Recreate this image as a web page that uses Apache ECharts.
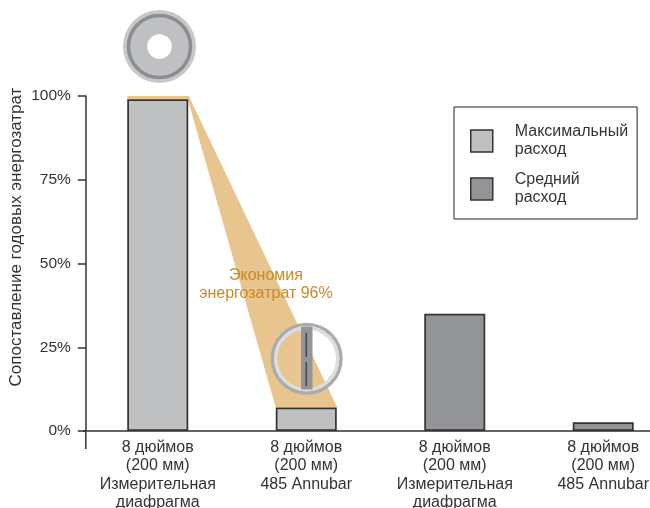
<!DOCTYPE html>
<html><head><meta charset="utf-8">
<style>html,body{margin:0;padding:0;background:#fff}#c{width:650px;height:508px}</style>
<script src="https://cdn.jsdelivr.net/npm/echarts@6/dist/echarts.min.js"></script>
</head><body><div id="c"></div>
<script>
const categories = ["8 дюймов\n(200 мм)\nИзмерительная\nдиафрагма","8 дюймов\n(200 мм)\n485 Annubar","8 дюймов\n(200 мм)\nИзмерительная\nдиафрагма","8 дюймов\n(200 мм)\n485 Annubar"];
const maxFlow = [99, 7, null, null];
const avgFlow = [null, null, 35, 2.6];
const savingsBand = [[0, 100, 99, 1, 7]];
const yTicks = [0, 25, 50, 75, 100];
const yTitle = 'Сопоставление годовых энергозатрат';
const ink = '#333';
const font = '"Liberation Sans", Arial, sans-serif';
const chart = echarts.init(document.getElementById('c'), null, {renderer:'canvas'});
const graphicEls = [
  {type:'line', shape:{x1:85.8,y1:431,x2:85.8,y2:449}, style:{stroke:ink,lineWidth:1.5}, z:5},
  {type:'text', x:16.5, y:237, rotation:Math.PI/2, style:{text:yTitle, fill:ink, font:'17px '+font, align:'center', verticalAlign:'middle'}, z:9},
  {type:'circle', shape:{cx:159.5,cy:46.5,r:36.5}, style:{fill:'#c6c7c9'}, z:10},
  {type:'circle', shape:{cx:159.5,cy:46.5,r:31}, style:{fill:'#bfc0c2',stroke:'#8c8d90',lineWidth:3.5}, z:11},
  {type:'circle', shape:{cx:159.5,cy:46.5,r:12.3}, style:{fill:'#fff'}, z:12},
  {type:'circle', shape:{cx:306.7,cy:358.7,r:34.3}, style:{fill:null,stroke:'#a9abae',lineWidth:3.4}, z:10},
  {type:'circle', shape:{cx:306.7,cy:358.7,r:31}, style:{fill:null,stroke:'#dcddde',lineWidth:3.4}, z:10},
  {type:'rect', shape:{x:301,y:326.5,width:11.5,height:63}, style:{fill:'#939598'}, z:11},
  {type:'line', shape:{x1:306.2,y1:333,x2:306.2,y2:357}, style:{stroke:'#222',lineWidth:1}, z:12},
  {type:'line', shape:{x1:306.2,y1:362,x2:306.2,y2:386}, style:{stroke:'#222',lineWidth:1}, z:12},
  {type:'text', x:266, y:284.5, style:{text:'Экономия\nэнергозатрат 96%', fill:'#c98a1f', font:'16px '+font, lineHeight:18.5, align:'center', verticalAlign:'middle'}, z:9}
];
chart.setOption({
  animation:false,
  backgroundColor:'#fff',
  textStyle:{fontFamily:font},
  grid:{left:83.5, top:96, width:594, height:335, outerBoundsMode:'none'},
  legend:{
    left:454, top:107, orient:'vertical', padding:[15,9,11,16],
    borderColor:'#222', borderWidth:1, itemWidth:22, itemHeight:22, itemGap:10, icon:'rect',
    itemStyle:{borderColor:'#333',borderWidth:1.5},
    textStyle:{fontSize:16,color:ink,lineHeight:18,fontFamily:font,padding:[2,0,0,17]},
    data:['Максимальный\nрасход','Средний\nрасход'], selectedMode:false
  },
  xAxis:{type:'category', data:categories,
    axisLine:{lineStyle:{color:ink,width:1.5}}, axisTick:{show:false},
    axisLabel:{interval:0,fontSize:16,color:ink,lineHeight:18.5,margin:7,fontFamily:font}},
  yAxis:{type:'value', min:0, max:100, interval:25, offset:-2.3,
    splitLine:{show:false},
    axisLine:{show:true,lineStyle:{color:ink,width:1.5}},
    axisTick:{show:true,length:8,lineStyle:{color:ink,width:1.5}},
    axisLabel:{formatter:v=>yTicks.includes(v)?v+'%':'',fontSize:15.5,color:ink,margin:15,fontFamily:font,padding:[5,0,0,0]}},
  series:[
    {type:'custom', silent:true, z:1, data:savingsBand, encode:{x:0,y:1},
      renderItem:(p,api)=>{
        const a=api.coord([api.value(0),api.value(1)]), k=api.coord([api.value(0),api.value(2)]), b=api.coord([api.value(3),api.value(4)]);
        return {type:'polygon', shape:{points:[[a[0]-30.5,a[1]],[a[0]+31,a[1]],[b[0]+31,b[1]],[b[0]-30.5,b[1]],[a[0]+30,k[1]],[a[0]-30.5,k[1]]]}, style:{fill:'#e8c48e'}};
      }},
    {name:'Максимальный\nрасход', type:'bar', z:3, data:maxFlow, barWidth:61, barGap:'-100%',
      itemStyle:{color:'#bfc0c2',borderColor:ink,borderWidth:1.7}},
    {name:'Средний\nрасход', type:'bar', z:3, data:avgFlow, barWidth:61, barGap:'-100%',
      itemStyle:{color:'#929497',borderColor:ink,borderWidth:1.7}}
  ],
  graphic:{elements:graphicEls}
});
</script></body></html>
